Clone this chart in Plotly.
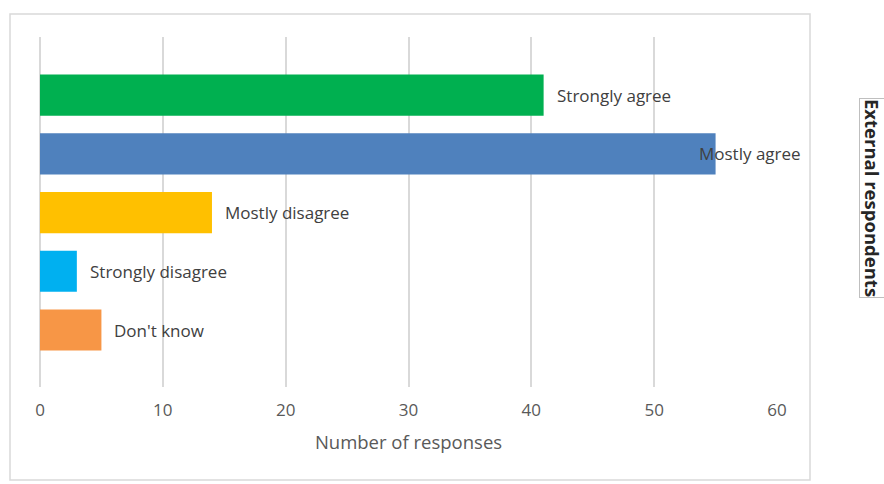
import plotly.graph_objects as go

# Survey answers, listed bottom to top as drawn
categories = ["Don't know", "Strongly disagree", "Mostly disagree", "Mostly agree", "Strongly agree"]
responses = [5, 3, 14, 55, 41]
bar_colors = ["#f79646", "#00b0f0", "#ffc000", "#4f81bd", "#00b050"]
x_ticks = [0, 10, 20, 30, 40, 50, 60]
panel_title = "External respondents"
x_title = "Number of responses"

W, H = 884, 484
L, R, T, B = 40, 107, 37, 97
x_max = 60

positions = list(range(len(categories)))

fig = go.Figure()
fig.add_trace(go.Bar(
    x=responses,
    y=positions,
    orientation="h",
    marker=dict(color=bar_colors, line=dict(width=0)),
    width=0.7,
    hoverinfo="skip",
    showlegend=False,
))

# category labels sit just past the end of each bar; a label that would run
# past the axis end is pulled back so it overlaps its bar instead
plot_w = W - L - R
plot_h = H - T - B
for pos, name, val in zip(positions, categories, responses):
    est_w = len(name) * 9.0
    end_px = val / x_max * plot_w + 14 + est_w
    shift = 11 if end_px < plot_w else -19
    fig.add_annotation(
        x=val, y=pos, xref="x", yref="y",
        text=name, showarrow=False,
        xanchor="left", yanchor="middle",
        xshift=shift,
        font=dict(family="Open Sans", size=17, color="#404040"),
    )

# side panel title
fig.add_annotation(
    x=(873 - L) / plot_w, y=(H - B - 198) / plot_h,
    xref="paper", yref="paper",
    text="<b>" + panel_title + "</b>", showarrow=False,
    textangle=90,
    font=dict(family="Open Sans", size=18.5, color="#262626"),
    bordercolor="#bfbfbf", borderwidth=1, borderpad=0,
    xanchor="center", yanchor="middle",
)

# chart frame
fig.add_shape(
    type="rect", xref="paper", yref="paper",
    x0=(10 - L) / plot_w, x1=(810 - L) / plot_w,
    y0=(H - B - 480) / plot_h, y1=(H - B - 14) / plot_h,
    line=dict(color="#d9d9d9", width=1.5),
    fillcolor="rgba(0,0,0,0)",
)

fig.update_layout(
    width=W, height=H,
    margin=dict(l=L, r=R, t=T, b=B),
    paper_bgcolor="white",
    plot_bgcolor="white",
    font=dict(family="Open Sans", color="#595959"),
    xaxis=dict(
        range=[0, x_max],
        tickvals=x_ticks,
        showgrid=True, gridcolor="#d9d9d9", gridwidth=1.5,
        zeroline=True, zerolinecolor="#d9d9d9", zerolinewidth=1.5,
        showline=False,
        ticks="",
        ticklabelstandoff=11,
        tickfont=dict(family="Open Sans", size=17, color="#595959"),
        title=dict(text=x_title, standoff=16,
                   font=dict(family="Open Sans", size=18.5, color="#595959")),
    ),
    yaxis=dict(
        range=[-0.97, 4.99],
        showgrid=False, zeroline=False, showline=False,
        showticklabels=False, ticks="",
    ),
)

fig.write_html("out.html")
